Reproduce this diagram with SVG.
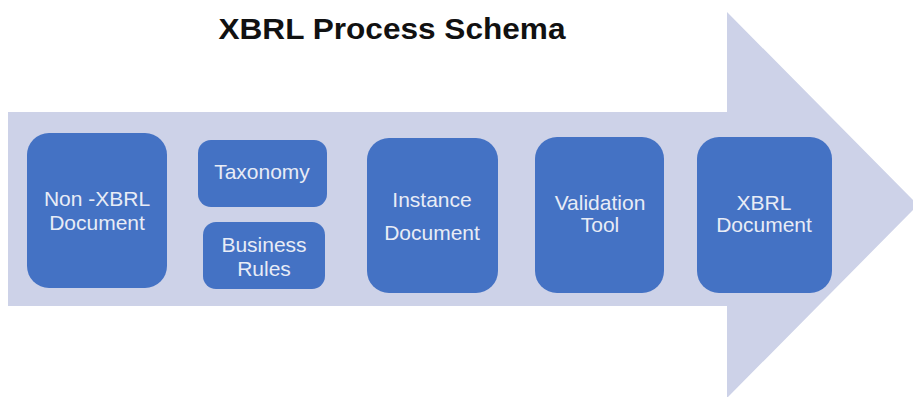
<svg xmlns="http://www.w3.org/2000/svg" width="913" height="397" viewBox="0 0 913 397">
<style>
.box{fill:#4472C4;}
.lbl{font-family:"Liberation Sans",Arial,sans-serif;font-size:21px;fill:#E8ECF6;text-anchor:middle;}
.title{font-family:"Liberation Sans",Arial,sans-serif;font-size:30px;font-weight:bold;fill:#111;text-anchor:middle;}
</style>
<rect width="913" height="397" fill="#FFFFFF"/>
<text class="title" x="392" y="39" textLength="347" lengthAdjust="spacingAndGlyphs">XBRL Process Schema</text>
<g id="connectors">
<polygon points="8,112 727,112 727,12 918,205 727,398 727,306 8,306" fill="#CDD2E8"/>
</g>
<g id="n1">
<rect class="box" x="27" y="133" width="140" height="155" rx="22"/>
<text class="lbl" x="97" y="206">Non -XBRL</text>
<text class="lbl" x="97" y="230">Document</text>
</g>
<g id="n2">
<rect class="box" x="198" y="140" width="129" height="67" rx="13"/>
<text class="lbl" x="262" y="179">Taxonomy</text>
</g>
<g id="n3">
<rect class="box" x="203" y="222" width="122" height="67" rx="13"/>
<text class="lbl" x="264" y="252">Business</text>
<text class="lbl" x="264" y="276">Rules</text>
</g>
<g id="n4">
<rect class="box" x="367" y="138" width="131" height="155" rx="22"/>
<text class="lbl" x="432" y="207">Instance</text>
<text class="lbl" x="432" y="240">Document</text>
</g>
<g id="n5">
<rect class="box" x="535" y="137" width="129" height="156" rx="22"/>
<text class="lbl" x="600" y="210">Validation</text>
<text class="lbl" x="600" y="232">Tool</text>
</g>
<g id="n6">
<rect class="box" x="697" y="137" width="135" height="156" rx="22"/>
<text class="lbl" x="764" y="210">XBRL</text>
<text class="lbl" x="764" y="232">Document</text>
</g>
</svg>
